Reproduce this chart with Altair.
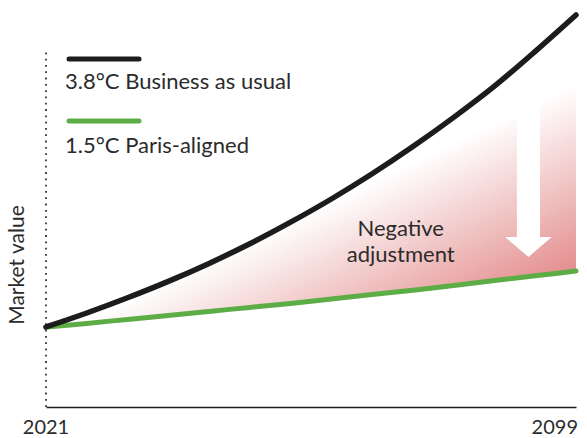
import altair as alt
import pandas as pd

# Scenario paths, indexed market value (arbitrary units)
years = [2021, 2027, 2033, 2039, 2045, 2051, 2057, 2063, 2069, 2075, 2081, 2087, 2093, 2099]
business_as_usual = [20.0, 23.5, 27.3, 31.4, 35.9, 40.8, 46.2, 52.0, 58.3, 65.1, 72.4, 80.2, 88.9, 98.0]
paris_aligned = [20.0, 20.9, 21.9, 22.9, 23.9, 24.9, 25.9, 27.0, 28.1, 29.2, 30.4, 31.6, 32.8, 34.0]

x_ticks = [2021, 2099]
x_tick_align = ["center", "right"]
legend_labels = ["3.8°C Business as usual", "1.5°C Paris-aligned"]

# Downward arrow marking the adjustment
arrow_shaft_x = [2090.3, 2093.7]
arrow_shaft_y = [79.0, 42.5]
arrow_head_x = [2088.57, 2092.0, 2095.43]
arrow_head_top = [42.5, 42.5, 42.5]
arrow_head_bottom = [42.5, 37.5, 42.5]

# Label for the gap between the curves
note_x = [2073.2]
note_y = [44.5]

FONT = "Lato"
TEXT = "#2b2b2b"
BLACK = "#1c1c1c"
GREEN = "#5cad45"
RED = "#e38c8c"

curves = pd.DataFrame({"year": years, "bau": business_as_usual, "paris": paris_aligned})

x_scale = alt.Scale(domain=[2021, 2099], nice=False, zero=False)
y_scale = alt.Scale(domain=[0, 100], nice=False)

# Bottom axis: only the solid baseline; year labels are drawn as text below
x_axis = alt.Axis(
    title=None,
    grid=False,
    ticks=False,
    labels=False,
    domain=True,
    domainColor=BLACK,
    domainWidth=1.5,
)


def xq(field):
    return alt.X(field, scale=x_scale, title=None)


def yq(field):
    return alt.Y(field, scale=y_scale, axis=None)


gap = alt.Chart(curves).mark_area(
    interpolate="monotone",
    color=alt.Gradient(
        gradient="linear",
        stops=[
            alt.GradientStop(color="#ffffff", offset=0),
            alt.GradientStop(color="#ffffff", offset=0.06),
            alt.GradientStop(color=RED, offset=1),
        ],
        x1=0.684, y1=0.439, x2=1.0, y2=0.824,
    ),
).encode(
    x=alt.X("year:Q", scale=x_scale, axis=x_axis),
    y=yq("bau:Q"),
    y2="paris:Q",
)

shaft = alt.Chart(pd.DataFrame({
    "x0": [arrow_shaft_x[0]], "x1": [arrow_shaft_x[1]],
    "y0": [arrow_shaft_y[0]], "y1": [arrow_shaft_y[1]],
})).mark_rect(color="white").encode(
    x=xq("x0:Q"), x2="x1:Q", y=yq("y0:Q"), y2="y1:Q"
)

head = alt.Chart(pd.DataFrame({
    "x": arrow_head_x, "top": arrow_head_top, "bottom": arrow_head_bottom,
})).mark_area(color="white", interpolate="linear").encode(
    x=xq("x:Q"), y=yq("top:Q"), y2="bottom:Q"
)

y_rule = alt.Chart(pd.DataFrame({"x": [2021], "y0": [0], "y1": [89]})).mark_rule(
    color="#333333", strokeWidth=1.8, strokeDash=[1.8, 4.5]
).encode(x=xq("x:Q"), y=yq("y0:Q"), y2="y1:Q")

paris_line = alt.Chart(curves).mark_line(
    interpolate="monotone", color=GREEN, strokeWidth=5, strokeCap="round"
).encode(x=xq("year:Q"), y=yq("paris:Q"))

bau_line = alt.Chart(curves).mark_line(
    interpolate="monotone", color=BLACK, strokeWidth=5.5, strokeCap="round"
).encode(x=xq("year:Q"), y=yq("bau:Q"))

note = alt.Chart(pd.DataFrame({"x": note_x, "y": note_y})).mark_text(
    text=["Negative", "adjustment"],
    font=FONT, fontSize=22, color=TEXT, align="center", baseline="middle", lineHeight=26,
).encode(x=xq("x:Q"), y=yq("y:Q"))

# Year labels at both ends of the time axis
tick_layers = []
for year, align, dx in zip(x_ticks, x_tick_align, [0, 2]):
    tick_layers.append(
        alt.Chart(pd.DataFrame({"year": [year], "label": [str(year)]})).mark_text(
            font=FONT, fontSize=20, fontWeight="normal", color=TEXT,
            align=align, baseline="middle", dx=dx,
        ).encode(x=xq("year:Q"), y=alt.value(421), text="label:N")
    )

# Legend: a line swatch above each label
legend_layers = []
for label, colour, line_y, text_y in [
    (legend_labels[0], BLACK, 52, 75),
    (legend_labels[1], GREEN, 114, 139),
]:
    row = pd.DataFrame({"label": [label]})
    legend_layers.append(
        alt.Chart(row).mark_rule(color=colour, strokeWidth=5, strokeCap="round").encode(
            x=alt.value(23), x2=alt.value(93), y=alt.value(line_y)
        )
    )
    legend_layers.append(
        alt.Chart(row).mark_text(
            font=FONT, fontSize=22, color=TEXT, align="left", baseline="middle"
        ).encode(x=alt.value(19), y=alt.value(text_y), text="label:N")
    )

y_title = alt.Chart(pd.DataFrame({"t": ["Market value"]})).mark_text(
    font=FONT, fontSize=21, color=TEXT, angle=270, align="center", baseline="middle"
).encode(x=alt.value(-28), y=alt.value(258), text="t:N")

chart = alt.layer(
    gap, shaft, head, y_rule, paris_line, bau_line, note,
    *tick_layers, *legend_layers, y_title
).properties(
    width=530,
    height=400,
    padding={"left": 46, "top": 7, "right": 11, "bottom": 31},
    autosize=alt.AutoSizeParams(type="none"),
).configure(background="white", view=alt.ViewConfig(stroke=None))

chart.save("out.html", embed_options={"renderer": "svg", "actions": False})
